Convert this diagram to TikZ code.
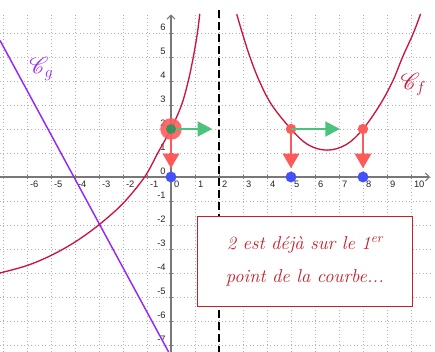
\documentclass[tikz,border=0pt]{standalone}
\usepackage{fontspec}
\usepackage{mathrsfs}
\newfontfamily\labfont{Liberation Sans}
\usetikzlibrary{arrows.meta}
\definecolor{curvef}{RGB}{204,20,60}
\definecolor{curveg}{RGB}{150,40,250}
\definecolor{dotred}{RGB}{255,90,90}
\definecolor{arrgreen}{RGB}{75,195,125}
\definecolor{dotblue}{RGB}{70,80,250}
\definecolor{boxred}{RGB}{200,30,40}
\definecolor{axisgray}{RGB}{120,120,120}
\begin{document}
\begin{tikzpicture}[x=18pt,y=18pt,
  gridline/.style={gray!60, dotted, line width=0.6pt},
  axisline/.style={axisgray, line width=0.9pt, -{Straight Barb[length=3pt,width=6pt]}},
  xlab/.style={font=\labfont\fontsize{7}{8}\selectfont, anchor=north west, inner sep=1pt, text=black!85},
  ylab/.style={font=\labfont\fontsize{7}{8}\selectfont, anchor=south east, inner sep=1pt, text=black!85},
  fcurve/.style={curvef, line width=1pt},
  gcurve/.style={curveg, line width=1.1pt},
  asym/.style={black, line width=1.2pt, dash pattern=on 6pt off 3pt},
  reddot/.style={circle, fill=dotred, inner sep=0pt, minimum size=7.8pt},
  bluedot/.style={circle, fill=dotblue, inner sep=0pt, minimum size=8.2pt},
  greendot/.style={circle, fill=arrgreen!75!black, inner sep=0pt, minimum size=7.5pt},
  bigdot/.style={circle, fill=dotred, fill opacity=0.9, inner sep=0pt, minimum size=16.2pt},
  garrow/.style={arrgreen, line width=2.2pt, -{Triangle[length=11pt,width=11pt]}},
  rarrow/.style={dotred, line width=2.2pt, -{Triangle[length=11pt,width=12pt]}},
  textbox/.style={draw=boxred, line width=0.7pt, fill=white, text=boxred, align=center,
     minimum width=160.6pt, minimum height=66.8pt, inner sep=0pt,
     font=\fontsize{14}{25}\selectfont\itshape},
  curvelab/.style={inner sep=0pt, font=\fontsize{17}{18}\selectfont}
]
\useasboundingbox (-7.125,-7.29) rectangle (11,7.375);
% grid
\foreach \x in {-7,...,10} \draw[gridline] (\x,-7.29) -- (\x,6.75);
\foreach \y in {-7,...,6} \draw[gridline] (-7.125,\y) -- (10.8,\y);
% axes
\coordinate (xa0) at (-7.125,0);
\coordinate (xa1) at (10.8,0);
\coordinate (ya0) at (0,-7.29);
\coordinate (ya1) at (0,6.78);
\draw[axisline] (xa0) -- (xa1);
\draw[axisline] (ya0) -- (ya1);
\foreach \x in {-6,...,10} \draw[axisgray, line width=0.6pt] (\x,-0.08) -- (\x,0.08);
\foreach \y in {-7,...,6} \draw[axisgray, line width=0.6pt] (-0.08,\y) -- (0.08,\y);
% labels
\foreach \x in {-6,...,10} \node[xlab] (xl\x) at (\x+0.06,-0.12) {\x};
\foreach \y in {-7,...,6} \node[ylab] (yl\y) at (-0.16,\y+0.04) {\y};
% asymptote
\coordinate (as0) at (2,6.95);
\coordinate (as1) at (2,-7.29);
\draw[asym] (as0) -- (as1);
% curves
\draw[gcurve] (-7.125,5.69) -- (-0.1,-7.29);
\draw[fcurve] plot[smooth, tension=0.55] coordinates {(-7.125,-4.0) (-6,-3.69) (-5,-3.27) (-4,-2.71) (-3,-1.99) (-2,-1.1) (-1.1,0) (-0.55,1) (0,2) (0.44,3) (0.72,4) (0.93,5) (1.1,6) (1.2,6.8)};
\draw[fcurve] plot[smooth, tension=0.6] coordinates {(2.74,6.78) (2.97,6) (3.29,5) (3.68,4) (4.2,3) (5,2) (5.7,1.35) (6.5,1.12) (7.3,1.35) (8,2) (8.7,3) (9.24,4) (9.65,5) (10.1,6) (10.4,6.8)};
\node[curvelab, text=curveg] (cg) at (-5.4,4.5) {$\mathscr{C}_g$};
\node[curvelab, text=curvef] (cf) at (10.1,3.85) {$\mathscr{C}_f$};
% markers
\node[bigdot] (p0) at (0,2) {};
\node[reddot] (p1) at (5,2) {};
\node[reddot] (p2) at (8,2) {};
\node[bluedot] (b0) at (0,0) {};
\node[bluedot] (b1) at (5,0) {};
\node[bluedot] (b2) at (8,0) {};
\coordinate (gt0) at (1.72,2);
\coordinate (gt1) at (7.04,2);
\coordinate (rt0) at (0,0.36);
\coordinate (rt1) at (5,0.36);
\coordinate (rt2) at (8,0.36);
\draw[rarrow] (p0.center) -- (rt0);
\draw[rarrow] (p1.center) -- (rt1);
\draw[rarrow] (p2.center) -- (rt2);
\draw[garrow] (p0.center) -- (gt0);
\draw[garrow] (p1.center) -- (gt1);
\node[greendot] (g0) at (0,2) {};
% text box
\node[textbox] (msg) at (5.58,-3.52) {2 est déjà sur le 1\textsuperscript{er}\\ point de la courbe...};
\end{tikzpicture}
\end{document}
